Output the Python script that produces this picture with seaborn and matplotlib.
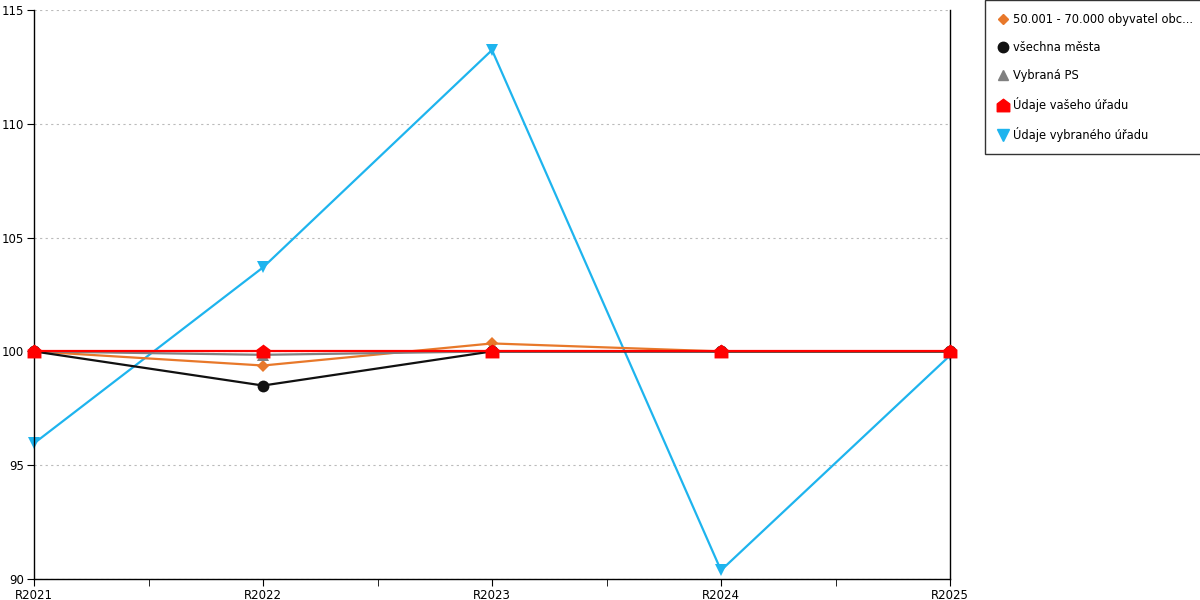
import numpy as np
import pandas as pd
import matplotlib
matplotlib.use("Agg")
import matplotlib.pyplot as plt
import seaborn as sns
from matplotlib.lines import Line2D
from matplotlib.path import Path

# data
years = ["R2021", "R2022", "R2023", "R2024", "R2025"]
obce_50_70 = [100, 99.38, 100.35, 100, 100]
vsechna_mesta = [100, 98.5, 100, 100, 100]
vybrana_ps = [100, 99.85, 100, 100, 100]
vas_urad = [100, 100, 100, 100, 100]
vybrany_urad = [95.96, 103.69, 113.24, 90.38, 99.82]

series_names = ["50.001 - 70.000 obyvatel obc...", "všechna města", "Vybraná PS",
                "Údaje vašeho úřadu", "Údaje vybraného úřadu"]
series_values = [obce_50_70, vsechna_mesta, vybrana_ps, vas_urad, vybrany_urad]

# house-shaped marker for "vaseho uradu"
house = Path([(-1, -1), (1, -1), (1, 0.25), (0, 1), (-1, 0.25), (-1, -1)],
             [Path.MOVETO, Path.LINETO, Path.LINETO, Path.LINETO, Path.LINETO, Path.CLOSEPOLY])

colors = ["#E8782A", "#111111", "#808080", "#FF0000", "#1EB4EE"]
markers = ["D", "o", "^", house, "v"]
msizes = [6, 8.5, 8, 10, 9]
zorders = [3, 4, 3, 6, 2]

sns.set_style("white")
plt.rcParams["font.family"] = ["DejaVu Sans"]

fig = plt.figure(figsize=(12, 6), dpi=100)
ax = fig.add_axes([34 / 1200, 21 / 600, 916 / 1200, 569 / 600])

x = np.arange(len(years))
for name, vals, c, m, ms, z in zip(series_names, series_values, colors, markers, msizes, zorders):
    df = pd.DataFrame({"x": x, "y": vals})
    sns.lineplot(data=df, x="x", y="y", ax=ax, color=c, marker=m, markersize=ms,
                 markeredgewidth=0, linewidth=1.6)
for ln, z in zip(ax.lines, zorders):
    ln.set_clip_on(False)
    ln.set_zorder(z)

ax.set_xlim(0, len(years) - 1)
ax.set_ylim(90, 115)
ax.set_yticks([90, 95, 100, 105, 110, 115])
ax.set_xticks(x)
ax.set_xticklabels(years)
ax.set_xticks(np.arange(0.5, len(years) - 1, 1), minor=True)
ax.set_xlabel("")
ax.set_ylabel("")
ax.grid(axis="y", color="#bbbbbb", linestyle=(0, (2, 3)), linewidth=0.8)
ax.grid(axis="x", visible=False)
for s in ["left", "bottom", "right"]:
    ax.spines[s].set_color("black")
    ax.spines[s].set_linewidth(1)
ax.spines["top"].set_visible(False)
ax.tick_params(axis="both", which="both", direction="out", length=5, color="black",
               labelsize=8.5, labelcolor="black", left=True, bottom=True)
ax.tick_params(axis="x", pad=2)
ax.tick_params(axis="y", pad=2)

handles = [Line2D([], [], linestyle="none", marker=m, color=c, markersize=ms - 1)
           for m, c, ms in zip(markers, colors, msizes)]
leg = fig.legend(handles, series_names, loc="upper left", bbox_to_anchor=(985 / 1200, 1.0),
                 frameon=True, fontsize=8.3, handletextpad=0.3, labelspacing=1.3,
                 borderpad=1.1, handlelength=1.0, fancybox=False, borderaxespad=0)
leg.get_frame().set_edgecolor("black")
leg.get_frame().set_linewidth(1)
for t in leg.get_texts():
    t.set_color("black")

fig.savefig("out.png", dpi=100)
